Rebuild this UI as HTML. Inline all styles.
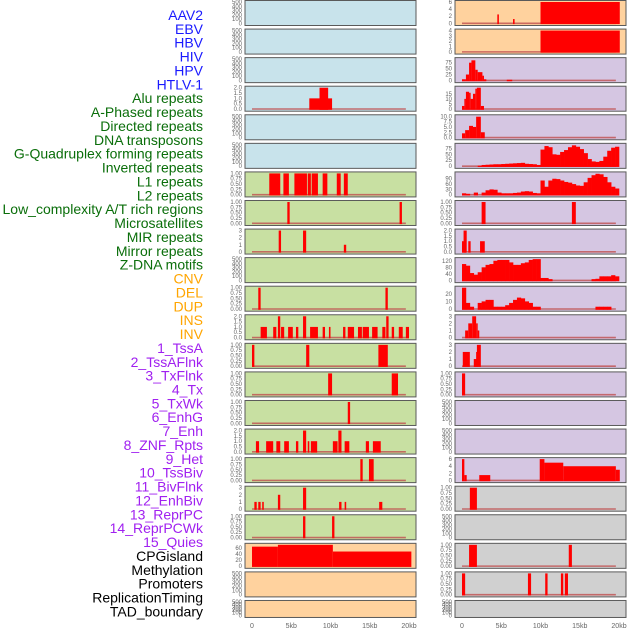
<!DOCTYPE html>
<html><head><meta charset="utf-8"><style>
html,body{margin:0;padding:0;background:#fff;}
svg{display:block;font-family:"Liberation Sans",sans-serif;}
</style></head><body>
<svg id="chart" width="630" height="630" viewBox="0 0 630 630" xmlns="http://www.w3.org/2000/svg"></svg>
<script>
const trackLabels = ["AAV2","EBV","HBV","HIV","HPV","HTLV-1","Alu repeats","A-Phased repeats","Directed repeats","DNA transposons","G-Quadruplex forming repeats","Inverted repeats","L1 repeats","L2 repeats","Low_complexity A/T rich regions","Microsatellites","MIR repeats","Mirror repeats","Z-DNA motifs","CNV","DEL","DUP","INS","INV","1_TssA","2_TssAFlnk","3_TxFlnk","4_Tx","5_TxWk","6_EnhG","7_Enh","8_ZNF_Rpts","9_Het","10_TssBiv","11_BivFlnk","12_EnhBiv","13_ReprPC","14_ReprPCWk","15_Quies","CPGisland","Methylation","Promoters","ReplicationTiming","TAD_boundary"];
const labelColors = ["#1a1aff","#1a1aff","#1a1aff","#1a1aff","#1a1aff","#1a1aff","#0a6e0a","#0a6e0a","#0a6e0a","#0a6e0a","#0a6e0a","#0a6e0a","#0a6e0a","#0a6e0a","#0a6e0a","#0a6e0a","#0a6e0a","#0a6e0a","#0a6e0a","#ffa500","#ffa500","#ffa500","#ffa500","#ffa500","#a020f0","#a020f0","#a020f0","#a020f0","#a020f0","#a020f0","#a020f0","#a020f0","#a020f0","#a020f0","#a020f0","#a020f0","#a020f0","#a020f0","#a020f0","#000","#000","#000","#000","#000"];
const xTicks = [0,5,10,15,20];
const xTickLabels = ["0","5kb","10kb","15kb","20kb"];

const T500 = [0,100,200,300,400,500];
const T1 = [0,0.25,0.5,0.75,1];
const T2 = [0,0.5,1,1.5,2];
const T3 = [0,1,2,3];

// left column bars [startKb, endKb, value]
const L3 = [[7.3,10.2,1],[8.6,9.7,2]];
const L6 = [[2.2,3.6,1],[4.0,4.7,1],[5.4,7.0,1],[7.1,7.5,1],[7.6,8.4,1],[9.0,9.6,1],[10.8,11.3,1],[11.7,12.2,1]];
const L7 = [[4.5,4.8,1],[18.8,19.1,1]];
const L8 = [[3.4,3.7,3],[6.5,6.9,3],[11.7,12.0,1]];
const L10 = [[0.8,1.1,1],[17.0,17.3,1]];
const L11 = [[1.1,1.9,1],[2.7,3.1,1],[3.3,3.6,2],[3.7,4.1,1],[4.6,5.2,1],[5.6,5.9,1],[6.5,6.9,2],[7.4,8.4,1],[9.0,9.3,1],[9.8,10.0,1],[11.6,11.9,1],[12.2,13.0,1],[13.5,14.0,1],[14.1,14.9,1],[15.3,16.0,1],[16.6,17.0,1],[17.1,17.4,2],[17.8,18.1,1],[18.7,19.2,1],[19.6,20.0,1]];
const L12 = [[0,0.3,1],[6.9,7.3,1],[16.1,17.3,1]];
const L13 = [[9.7,10.2,1],[17.8,18.6,1]];
const L14 = [[12.2,12.5,1]];
const L15 = [[0.5,0.9,1],[1.8,2.7,1],[3.1,3.6,1],[4.1,4.7,1],[5.6,5.9,1],[6.5,6.9,2],[7.1,7.3,1],[7.5,8.3,1],[10.3,10.9,1],[11.0,11.4,2],[11.8,12.4,1],[14.5,14.9,1],[15.4,16.4,1]];
const L16 = [[13.8,14.1,1],[14.9,15.5,1]];
const L17 = [[0.3,0.6,1],[0.8,1.1,1],[1.3,1.5,1],[3.3,3.6,2],[6.5,6.9,3],[11.1,11.4,1],[11.8,12.0,1],[16.2,16.6,1]];
const L18 = [[6.5,6.8,1],[10.2,10.5,1]];
const L19 = [[0,3.3,64],[3.3,10.3,70],[10.3,20.3,48]];

// right column
const R0 = [[4.5,4.7,2.5],[6.5,6.7,1.2],[10.0,20.1,6]];
const R1 = [[10.0,20.1,4]];
const R2 = [[0,0.5,5],[0.5,0.9,25],[0.9,1.2,75],[1.2,1.7,85],[1.7,2.0,45],[2.0,2.6,35],[2.6,2.8,20],[2.8,3.1,5],[5.7,6.4,3]];
const R3 = [[0,0.3,3],[0.3,0.5,10],[0.5,0.9,17],[0.9,1.1,16],[1.1,1.4,10],[1.4,1.7,15],[1.7,1.9,20],[1.9,2.4,21],[2.4,2.8,3]];
const R4 = [[0,0.4,2],[0.4,0.9,3.5],[0.9,1.4,5.5],[1.4,1.8,5],[1.8,2.4,9.8],[2.4,2.9,2.5]];
const R5 = [0,0,0,0,2,5,6,7,8,8,9,10,11,12,13,14,10,9,8,5,70,85,80,50,48,60,68,80,88,82,72,55,30,20,18,22,40,65,78,82];
const R6 = [8,5,0,12,0,12,25,30,28,12,8,8,8,10,12,18,20,18,10,8,80,45,80,90,88,80,72,68,60,52,50,70,95,110,118,115,100,70,45,35];
const R7 = [[2.5,3.0,1],[14.0,14.5,1]];
const R8 = [[0,0.5,1],[0.2,0.6,2],[0.8,1.1,1],[2.3,2.9,1]];
const R9 = [100,90,45,35,50,80,95,100,120,125,125,125,110,95,95,105,110,125,130,130,15,15,8,0,0,0,0,0,0,0,0,0,0,8,10,25,25,25,32,25];
const R10 = [28,8,3,0,8,10,12,12,3,3,3,5,8,12,15,14,10,8,3,3,0,0,0,0,0,0,0,0,0,0,0,0,0,0,3,3,3,3,0,0];
const R11 = [[0.4,0.8,1],[0.8,1.3,2],[1.3,1.8,3],[1.8,2.0,2],[2.0,2.2,1]];
const R12 = [[0.1,1.0,2],[1.5,1.9,1],[1.8,2.0,2],[1.9,2.4,3]];
const R13 = [[0,0.4,1]];
const R16 = [[0,0.3,6],[0.3,0.6,1.5],[2.2,3.6,1.5],[9.9,10.5,6],[10.5,12.9,5],[12.9,19.6,4],[19.6,20.1,3]];
const R17 = [[1.0,1.9,1]];
const R19 = [[0.9,1.9,1],[13.6,14.0,1]];
const R20 = [[0,0.4,1],[8.4,8.8,1],[10.6,10.9,1],[12.6,12.9,1],[13.1,13.5,1]];

const BLUE="#c8e3eb", GREEN="#c8e0a2", ORANGE="#ffd29e", PURPLE="#d5c6e2", GREY="#d0d0d0";
function fmt(t,ticks){ if(ticks===T1) return t.toFixed(2); if(ticks===T2) return t.toFixed(1); return String(t); }
const leftPanels = [
 {bg:BLUE,ticks:T500,ymax:500,bars:[]},{bg:BLUE,ticks:T500,ymax:500,bars:[]},{bg:BLUE,ticks:T500,ymax:500,bars:[]},
 {bg:BLUE,ticks:T2,ymax:2,bars:L3},{bg:BLUE,ticks:T500,ymax:500,bars:[]},{bg:BLUE,ticks:T500,ymax:500,bars:[]},
 {bg:GREEN,ticks:T1,ymax:1,bars:L6},{bg:GREEN,ticks:T1,ymax:1,bars:L7},{bg:GREEN,ticks:T3,ymax:3,bars:L8},
 {bg:GREEN,ticks:T500,ymax:500,bars:[]},{bg:GREEN,ticks:T1,ymax:1,bars:L10},{bg:GREEN,ticks:T2,ymax:2,bars:L11},
 {bg:GREEN,ticks:T1,ymax:1,bars:L12},{bg:GREEN,ticks:T1,ymax:1,bars:L13},{bg:GREEN,ticks:T1,ymax:1,bars:L14},
 {bg:GREEN,ticks:T2,ymax:2,bars:L15},{bg:GREEN,ticks:T1,ymax:1,bars:L16},{bg:GREEN,ticks:T3,ymax:3,bars:L17},
 {bg:GREEN,ticks:T1,ymax:1,bars:L18},{bg:ORANGE,ticks:[0,20,40,60],ymax:70,bars:L19,nobase:true},
 {bg:ORANGE,ticks:T500,ymax:500,bars:[]},{bg:ORANGE,ticks:T500,ymax:500,bars:[]}
];
const rightPanels = [
 {bg:ORANGE,ticks:[0,2,4,6],ymax:6,bars:R0},{bg:ORANGE,ticks:[0,1,2,3,4],ymax:4,bars:R1},
 {bg:PURPLE,ticks:[0,25,50,75],ymax:90,bars:R2},{bg:PURPLE,ticks:[0,5,10,15],ymax:21,bars:R3},
 {bg:PURPLE,ticks:[0,2.5,5,7.5,10],labels:["0.0","2.5","5.0","7.5","10.0"],ymax:10,bars:R4},
 {bg:PURPLE,ticks:[0,25,50,75],ymax:90,profile:R5},{bg:PURPLE,ticks:[0,30,60,90],ymax:120,profile:R6},
 {bg:PURPLE,ticks:T1,ymax:1,bars:R7},{bg:PURPLE,ticks:T2,ymax:2,bars:R8},
 {bg:PURPLE,ticks:[0,40,80,120],ymax:130,profile:R9},{bg:PURPLE,ticks:[0,10,20],ymax:28,profile:R10},
 {bg:PURPLE,ticks:T3,ymax:3,bars:R11},{bg:PURPLE,ticks:T3,ymax:3,bars:R12},{bg:PURPLE,ticks:T1,ymax:1,bars:R13},
 {bg:PURPLE,ticks:T500,ymax:500,bars:[]},{bg:PURPLE,ticks:T500,ymax:500,bars:[]},
 {bg:PURPLE,ticks:[0,2,4,6],ymax:6,bars:R16},{bg:GREY,ticks:T1,ymax:1,bars:R17},
 {bg:GREY,ticks:T500,ymax:500,bars:[]},{bg:GREY,ticks:T1,ymax:1,bars:R19},{bg:GREY,ticks:T1,ymax:1,bars:R20},
 {bg:GREY,ticks:T500,ymax:500,bars:[]}
];

const svg = document.getElementById('chart');
const NS = "http://www.w3.org/2000/svg";
function mk(tag, attrs, parent){ const e=document.createElementNS(NS,tag); for(const k in attrs) e.setAttribute(k,attrs[k]); (parent||svg).appendChild(e); return e; }

// labels
trackLabels.forEach((t,i)=>{
  const e = mk('text',{x:203,y:20+i*13.87,'text-anchor':'end','font-size':14,fill:labelColors[i]});
  e.textContent = t;
  
  
});

function drawColumn(panels, px0, px1, zeroX, kbPx, side){
  const xs = kb => zeroX + kb*kbPx;
  panels.forEach((p,i)=>{
    const top = 0.5 + i*28.57;
    const h = (i===21) ? 17 : 25;
    const g = mk('g',{});
    
    
    mk('rect',{x:px0,y:top,width:px1-px0,height:h,fill:p.bg,stroke:'#5a5a5a','stroke-width':1},g);
    const y0 = top+h-2.2, y1 = top+1.5;
    const ys = v => y0 - v/p.ymax*(y0-y1);
    p.ticks.forEach((t,k)=>{
      const e = mk('text',{x:px0-3,y:ys(t)+2,'text-anchor':'end','font-size':6,fill:'#666'},g);
      e.textContent = p.labels ? p.labels[k] : fmt(t,p.ticks);
      
      
    });
    if(p.ticks!==T500 && !p.nobase){
      mk('line',{x1:xs(0),x2:xs(19.6),y1:y0,y2:y0,stroke:'#c05050','stroke-width':1.6,opacity:0.8},g);
    }
    const bars = p.bars || [];
    bars.forEach(b=>{
      const x=xs(b[0]), w=Math.max(1.2, xs(b[1])-xs(b[0]));
      const r = mk('rect',{x:x,y:ys(b[2]),width:w,height:y0-ys(b[2])+0.8,fill:'#ff0000'},g);
      
      
    });
    if(p.profile){
      p.profile.forEach((v,k)=>{
        if(v<=0) return;
        const x=xs(k*0.5);
        const r = mk('rect',{x:x,y:ys(v),width:xs(0.5)-xs(0)+0.3,height:y0-ys(v)+0.8,fill:'#ff0000'},g);
        
        
      });
    }
  });
  xTicks.forEach((t,k)=>{
    const e = mk('text',{x:xs(t),y:628,'text-anchor':'middle','font-size':7,fill:'#666'});
    e.textContent = xTickLabels[k];
    
    
  });
}
drawColumn(leftPanels, 245, 416, 252, 7.85, 'left');
drawColumn(rightPanels, 455, 626, 462, 7.85, 'right');
</script>
</body></html>
